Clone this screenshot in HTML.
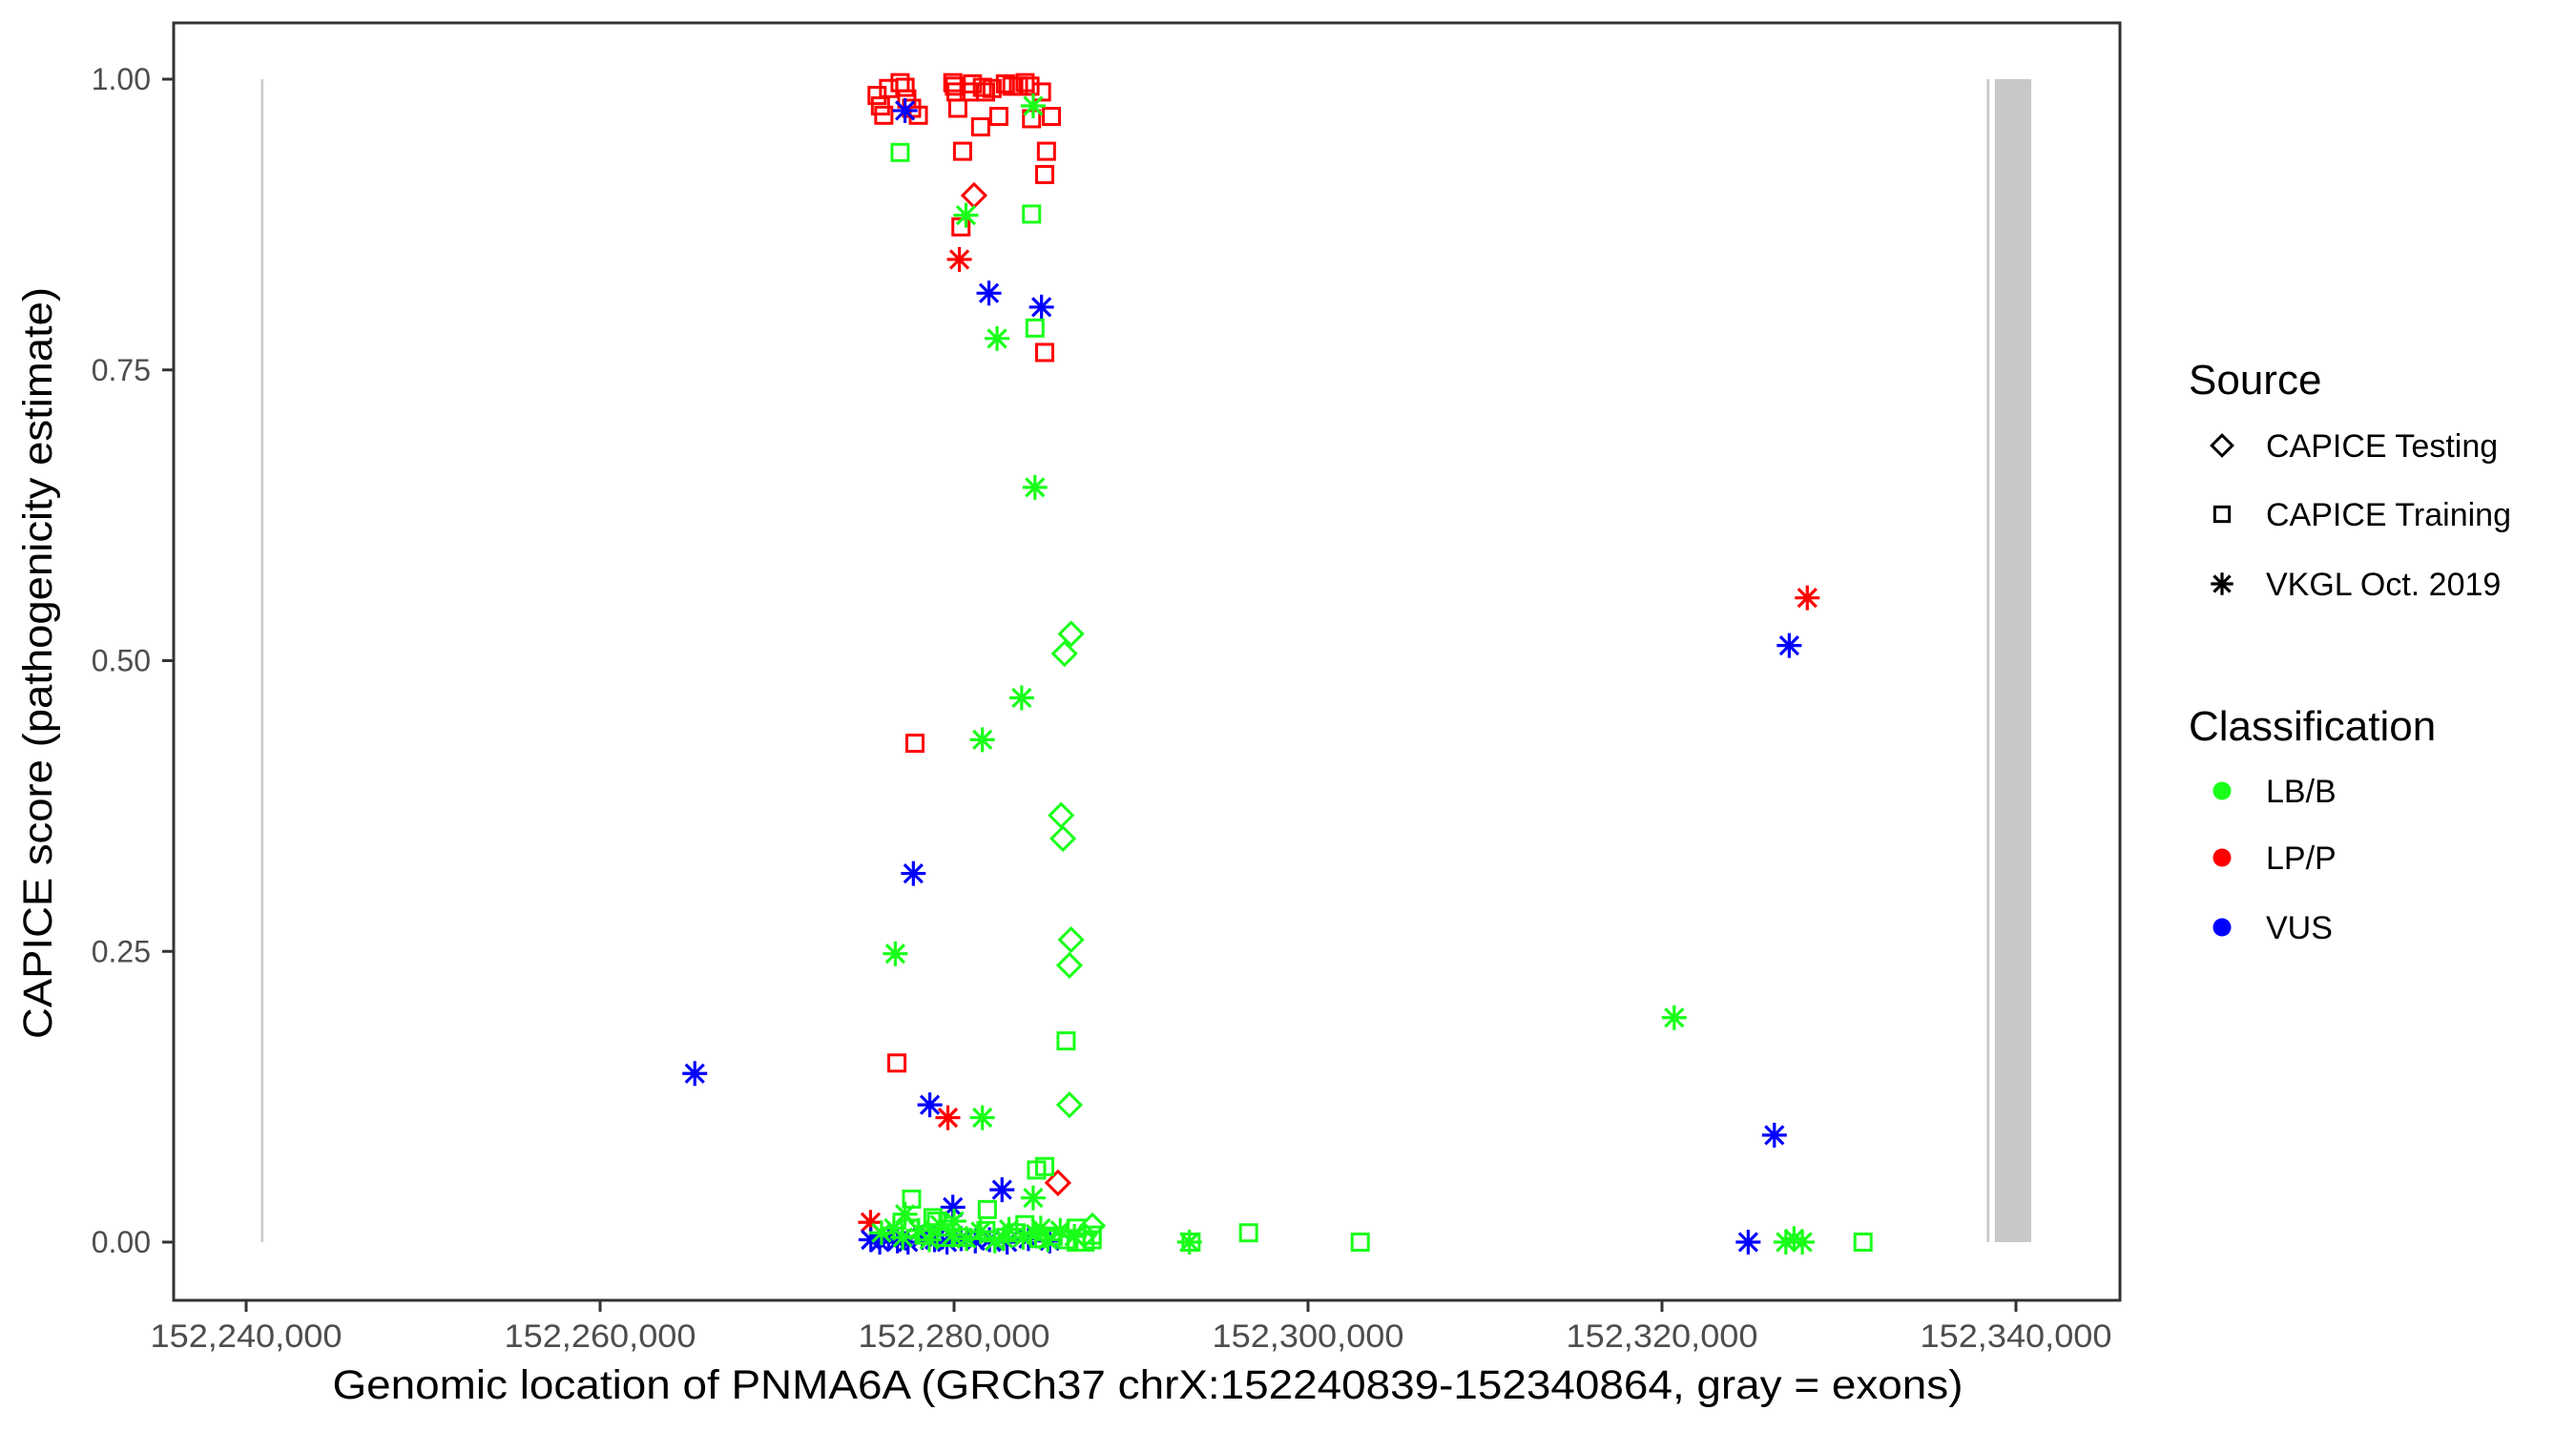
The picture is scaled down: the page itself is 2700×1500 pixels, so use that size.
<!DOCTYPE html>
<html><head><meta charset="utf-8"><style>
body{margin:0;background:#fff}
svg{display:block}
text{font-family:"Liberation Sans",Arial,sans-serif}
</style></head><body>
<svg id="chart" width="2700" height="1500" viewBox="0 0 2700 1500" xmlns="http://www.w3.org/2000/svg">
<rect x="0" y="0" width="2700" height="1500" fill="#fff"/>
<g id="exons"></g>
<g id="points"></g>
<rect x="182" y="24" width="2040" height="1339" fill="none" stroke="#333" stroke-width="3"/>
<g id="xaxis"></g>
<g id="yaxis"></g>
<text x="1203" y="1466" text-anchor="middle" font-size="43" textLength="1709" lengthAdjust="spacingAndGlyphs" fill="#000">Genomic location of PNMA6A (GRCh37 chrX:152240839-152340864, gray = exons)</text>
<text transform="translate(54,695) rotate(-90)" text-anchor="middle" font-size="43" textLength="788" lengthAdjust="spacingAndGlyphs" fill="#000">CAPICE score (pathogenicity estimate)</text>
<g id="legend">
<text x="2294" y="413" font-size="44" fill="#000">Source</text>
<text x="2294" y="776" font-size="44" fill="#000">Classification</text>
</g>
</svg>
<script>
const X0 = 152240000;
const xTicks = [152240000,152260000,152280000,152300000,152320000,152340000];
const xTickLabels = ["152,240,000","152,260,000","152,280,000","152,300,000","152,320,000","152,340,000"];
const yTicks = [0,0.25,0.5,0.75,1];
const yTickLabels = ["0.00","0.25","0.50","0.75","1.00"];
const exonStarts = [152240839,152338350,152338810];
const exonEnds = [152240900,152338500,152340864];
// Points: position offset from 152,240,000 (kb), score, source (T=testing,R=training,V=VKGL), class (B=LB/B,P=LP/P,U=VUS)
const ptPosKb = [
35.65,35.84,36.03,36.30,36.95,37.23,37.33,37.60,37.98,39.93,40.02,40.11,40.21,40.48,40.39,40.85,41.04,41.50,41.60,41.78,42.15,42.53,42.90,43.27,43.64,44.01,44.29,44.38,44.94,45.12,45.22,45.50,45.12,
37.79,36.77,41.13,45.87,40.30,39.65,35.28,88.21,
37.23,41.97,44.94,37.70,25.35,38.63,42.71,39.93,87.19,86.35,84.87,
36.95,44.38,44.57,46.33,37.60,44.66,45.12,41.88,38.81,56.64,62.95,91.36,53.39,
44.47,40.67,42.43,44.57,43.82,41.60,36.68,41.60,80.69,44.47,37.23,87.46,87.93,87.00,53.30,
46.61,46.24,46.05,46.15,46.61,46.52,46.52,47.82,47.35,
35.3,35.8,36.3,36.8,37.4,38.2,38.9,39.6,40.4,41.2,42.0,43.0,44.2,45.4,
35.9,36.6,37.1,38.0,38.6,39.2,39.9,40.7,41.5,42.3,43.1,43.9,44.6,45.3,46.0,46.8,40.0,42.8,44.9,
37.5,38.3,39.0,40.5,41.8,43.5,44.0,44.8,45.6,46.4,46.9,47.4,47.8,46.9,47.8,39.5
];
const ptScore = [
0.986,0.977,0.969,0.992,0.997,0.993,0.983,0.975,0.969,0.997,0.994,0.989,0.975,0.938,0.873,0.989,0.996,0.959,0.993,0.989,0.992,0.968,0.996,0.994,0.994,0.997,0.994,0.966,0.989,0.918,0.938,0.968,0.765,
0.429,0.154,0.900,0.051,0.845,0.107,0.017,0.554,
0.973,0.816,0.804,0.317,0.145,0.118,0.045,0.030,0.513,0.092,0.000,
0.937,0.884,0.786,0.173,0.037,0.062,0.065,0.028,0.021,0.008,0.000,0.000,0.000,
0.977,0.883,0.777,0.649,0.468,0.432,0.248,0.107,0.193,0.038,0.024,0.003,0.000,0.000,0.000,
0.523,0.506,0.367,0.347,0.260,0.238,0.118,0.014,0.006,
0.002,0.000,0.003,0.001,0.000,0.004,0.002,0.000,0.003,0.001,0.002,0.000,0.003,0.001,
0.008,0.012,0.004,0.010,0.002,0.015,0.006,0.003,0.009,0.001,0.011,0.004,0.007,0.002,0.010,0.005,0.018,0.003,0.012,
0.012,0.006,0.018,0.004,0.010,0.008,0.015,0.003,0.005,0.002,0.012,0.000,0.006,0.000,0.002,0.004
];
const ptSource = [
"R","R","R","R","R","R","R","R","R","R","R","R","R","R","R","R","R","R","R","R","R","R","R","R","R","R","R","R","R","R","R","R","R",
"R","R","T","T","V","V","V","V",
"V","V","V","V","V","V","V","V","V","V","V",
"R","R","R","R","R","R","R","R","R","R","R","R","R",
"V","V","V","V","V","V","V","V","V","V","V","V","V","V","V",
"T","T","T","T","T","T","T","T","T",
"V","V","V","V","V","V","V","V","V","V","V","V","V","V",
"V","V","V","V","V","V","V","V","V","V","V","V","V","V","V","V","V","V","V",
"R","R","R","R","R","R","R","R","R","R","R","R","R","R","R","R"
];
const ptClass = [
"P","P","P","P","P","P","P","P","P","P","P","P","P","P","P","P","P","P","P","P","P","P","P","P","P","P","P","P","P","P","P","P","P",
"P","P","P","P","P","P","P","P",
"U","U","U","U","U","U","U","U","U","U","U",
"B","B","B","B","B","B","B","B","B","B","B","B","B",
"B","B","B","B","B","B","B","B","B","B","B","B","B","B","B",
"B","B","B","B","B","B","B","B","B",
"U","U","U","U","U","U","U","U","U","U","U","U","U","U",
"B","B","B","B","B","B","B","B","B","B","B","B","B","B","B","B","B","B","B",
"B","B","B","B","B","B","B","B","B","B","B","B","B","B","B","B"
];
const NS = "http://www.w3.org/2000/svg";
const xScale = v => 258 + (v - 152240000) * (2113 - 258) / 100000;
const yScale = v => 1302 - v * 1219;
const COLORS = {B:"#1aff1a", P:"#ff0000", U:"#0000ff"};
function mk(tag, attrs, parent){ const e=document.createElementNS(NS,tag); for(const k in attrs) e.setAttribute(k,attrs[k]); parent.appendChild(e); return e; }

const ex = document.getElementById('exons');
exonStarts.forEach((s,i)=>{
  const x1 = xScale(s), x2 = Math.max(xScale(exonEnds[i]), x1+2.5);
  const r = mk('rect',{x:x1,y:yScale(1),width:x2-x1,height:yScale(0)-yScale(1),fill:'#c8c8c8'},ex);
  
  
});

const xa = document.getElementById('xaxis');
xTicks.forEach((t,i)=>{
  const x = xScale(t);
  const l = mk('line',{x1:x,x2:x,y1:1363,y2:1375,stroke:'#333','stroke-width':3},xa);
  
  
  const tx = mk('text',{x:x,y:1412,'text-anchor':'middle','font-size':34,fill:'#4d4d4d',textLength:201,lengthAdjust:'spacingAndGlyphs'},xa);
  tx.textContent = xTickLabels[i];
  
  
});
const ya = document.getElementById('yaxis');
yTicks.forEach((t,i)=>{
  const y = yScale(t);
  const l = mk('line',{x1:170,x2:182,y1:y,y2:y,stroke:'#333','stroke-width':3},ya);
  
  
  const tx = mk('text',{x:158,y:y+11,'text-anchor':'end','font-size':32,fill:'#4d4d4d'},ya);
  tx.textContent = yTickLabels[i];
  
  
});

function drawShape(g, src, cx, cy, col, sz){
  const s = sz || 1;
  if(src==='R'){
    mk('rect',{x:cx-8.5*s,y:cy-8.5*s,width:17*s,height:17*s,fill:'none',stroke:col,'stroke-width':3},g);
  } else if(src==='T'){
    const d=12*s;
    mk('polygon',{points:`${cx},${cy-d} ${cx+d},${cy} ${cx},${cy+d} ${cx-d},${cy}`,fill:'none',stroke:col,'stroke-width':3},g);
  } else {
    const d=13*s, e=9.5*s;
    mk('path',{d:`M${cx} ${cy-d}V${cy+d}M${cx-d} ${cy}H${cx+d}M${cx-e} ${cy-e}L${cx+e} ${cy+e}M${cx-e} ${cy+e}L${cx+e} ${cy-e}`,stroke:col,'stroke-width':3.2,fill:'none'},g);
  }
}
const pg = document.getElementById('points');
ptPosKb.forEach((p,i)=>{
  const g = mk('g',{},pg);
  
  
  drawShape(g, ptSource[i], xScale(X0 + p*1000), yScale(ptScore[i]), COLORS[ptClass[i]]);
});

const lg = document.getElementById('legend');
const srcKeys = ["T","R","V"], srcLabels = ["CAPICE Testing","CAPICE Training","VKGL Oct. 2019"], srcY = [467,539,612];
srcKeys.forEach((k,i)=>{
  const g = mk('g',{},lg);
  
  
  drawShape(g, k, 2329, srcY[i], '#000', 0.9);
  const t = mk('text',{x:2375,y:srcY[i]+12,'font-size':34,fill:'#000'},g);
  t.textContent = srcLabels[i];
});
const clsKeys = ["B","P","U"], clsLabels = ["LB/B","LP/P","VUS"], clsY = [829,899,972];
clsKeys.forEach((k,i)=>{
  const g = mk('g',{},lg);
  
  
  mk('circle',{cx:2329,cy:clsY[i],r:9.5,fill:COLORS[k]},g);
  const t = mk('text',{x:2375,y:clsY[i]+12,'font-size':34,fill:'#000'},g);
  t.textContent = clsLabels[i];
});
</script>
</body></html>
